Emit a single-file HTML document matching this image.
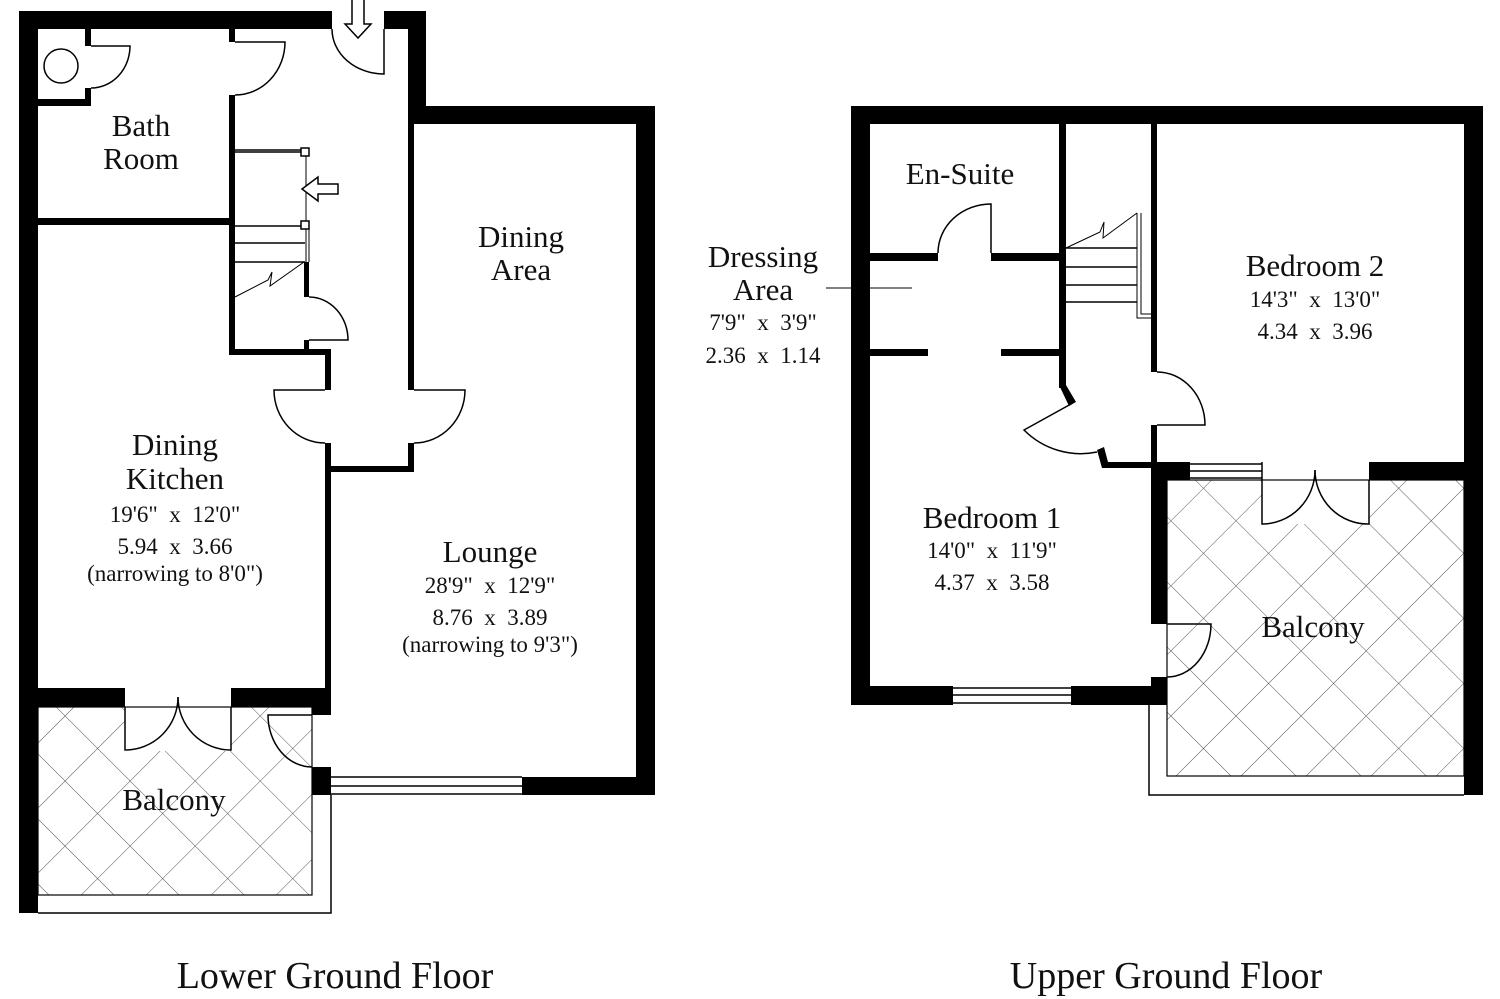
<!DOCTYPE html>
<html><head><meta charset="utf-8"><style>
html,body{margin:0;padding:0;background:#fff;}
svg{display:block;}
text{font-family:"Liberation Serif",serif;fill:#111;text-anchor:middle;white-space:pre;}
.n{font-size:31px;}
.d{font-size:23px;}
.t{font-size:38px;}
</style></head><body>
<svg width="1500" height="999" viewBox="0 0 1500 999" xmlns="http://www.w3.org/2000/svg">
<defs>
<pattern id="h" patternUnits="userSpaceOnUse" width="46" height="46" patternTransform="rotate(45)">
<line x1="0" y1="0" x2="46" y2="0" stroke="#555" stroke-width="1"/>
<line x1="0" y1="0" x2="0" y2="46" stroke="#555" stroke-width="1"/>
</pattern>
</defs>
<g fill="#000">
<!-- LEFT PLAN -->
<rect x="19" y="11" width="313" height="18"/>
<rect x="19" y="11" width="19" height="902"/>
<rect x="384" y="11" width="42" height="18"/>
<rect x="408" y="11" width="18" height="113"/>
<rect x="408" y="106" width="247" height="18"/>
<rect x="636" y="106" width="19" height="689"/>
<rect x="522" y="777" width="133" height="18"/>
<rect x="408" y="124" width="6" height="266"/>
<rect x="408" y="443" width="6" height="29"/>
<rect x="325" y="466" width="89" height="6"/>
<rect x="325" y="355" width="6" height="35"/>
<rect x="325" y="443" width="6" height="272"/>
<rect x="229" y="349" width="102" height="6"/>
<rect x="229" y="95" width="6" height="260"/>
<rect x="229" y="29" width="6" height="13"/>
<rect x="38" y="218" width="191" height="7"/>
<rect x="85" y="29" width="6" height="17"/>
<rect x="85" y="88" width="6" height="18"/>
<rect x="38" y="99" width="53" height="7"/>
<rect x="304" y="262" width="5" height="35"/>
<rect x="304" y="340" width="5" height="11"/>
<rect x="38" y="688" width="87" height="19"/>
<rect x="231" y="688" width="100" height="19"/>
<rect x="312" y="688" width="19" height="27"/>
<rect x="312" y="767" width="19" height="28"/>
<!-- RIGHT PLAN -->
<rect x="851" y="106" width="632" height="18"/>
<rect x="851" y="106" width="19" height="599"/>
<rect x="1464" y="106" width="19" height="689"/>
<rect x="851" y="686" width="102" height="19"/>
<rect x="1071" y="686" width="96" height="19"/>
<rect x="1059" y="124" width="7" height="264"/>
<polygon points="1059,385 1066,385 1076,402 1069,406"/>
<rect x="870" y="253" width="68" height="8"/>
<rect x="991" y="253" width="75" height="8"/>
<rect x="870" y="349" width="58" height="7"/>
<rect x="1001" y="349" width="65" height="7"/>
<rect x="1151" y="124" width="6" height="248"/>
<rect x="1151" y="425" width="6" height="55"/>
<polygon points="1097,450 1104,447 1108,462 1157,462 1157,468 1102,468"/>
<rect x="1151" y="462" width="39" height="18"/>
<rect x="1369" y="462" width="95" height="18"/>
<rect x="1151" y="480" width="16" height="144"/>
<rect x="1151" y="677" width="16" height="28"/>
</g>
<!-- hatches -->
<rect x="38" y="707" width="274" height="188" fill="url(#h)"/>
<rect x="125" y="707" width="106" height="44" fill="#fff"/>
<rect x="38" y="707" width="274" height="188" fill="none" stroke="#000" stroke-width="1.2"/>
<rect x="1167" y="480" width="297" height="296" fill="url(#h)"/>
<rect x="1262" y="480" width="107" height="44" fill="#fff"/>
<rect x="1167" y="480" width="297" height="296" fill="none" stroke="#000" stroke-width="1.2"/>
<g fill="none" stroke="#000" stroke-width="1.5">
<polyline points="38,913 331,913 331,795"/>
<line x1="331" y1="777" x2="522" y2="777"/><line x1="331" y1="786" x2="522" y2="786"/><line x1="331" y1="794" x2="522" y2="794"/>
<path d="M384,29 L384,74 A52,45 0 0 1 332,29"/>
<path d="M235,42 L285,42 A50,53 0 0 1 235,95"/>
<path d="M91,46 L130,46 A39,42 0 0 1 91,88"/>
<circle cx="61" cy="66" r="17"/>
<line x1="235" y1="150" x2="305" y2="150"/><line x1="235" y1="152" x2="305" y2="152"/>
<line x1="235" y1="226" x2="305" y2="226"/>
<line x1="235" y1="243" x2="305" y2="243"/>
<line x1="235" y1="262" x2="305" y2="262"/>
<line x1="306" y1="152" x2="306" y2="262" stroke-width="1"/><line x1="309" y1="226" x2="309" y2="262" stroke-width="1"/>
<rect x="301" y="148" width="8" height="8" fill="#fff"/>
<rect x="301" y="221" width="8" height="8" fill="#fff"/>
<polyline points="235,297 268,280 272,272 270,286 304,262" stroke-width="1"/>
<path d="M309,340 L348,340 A39,43 0 0 0 309,297"/>
<path d="M325,390 L274,390 A51,53 0 0 0 325,443"/>
<path d="M414,390 L465,390 A51,53 0 0 1 414,443"/>
<path d="M125,707 L125,750 A53,53 0 0 0 178,697"/>
<path d="M231,707 L231,750 A53,53 0 0 1 178,697"/>
<path d="M312,715 L268,715 A44,52 0 0 0 312,767"/>
<line x1="953" y1="688" x2="1071" y2="688"/><line x1="953" y1="695" x2="1071" y2="695"/><line x1="953" y1="703" x2="1071" y2="703"/>
<path d="M991,253 L991,204 A53,49 0 0 0 938,253"/>
<line x1="826" y1="288" x2="912" y2="288" stroke-width="1"/>
<line x1="1066" y1="248" x2="1137" y2="248"/><line x1="1066" y1="267" x2="1137" y2="267"/><line x1="1066" y1="285" x2="1137" y2="285"/><line x1="1066" y1="302" x2="1137" y2="302"/>
<polyline points="1066,248 1100,232 1104,222 1103,238 1137,213" stroke-width="1"/>
<polyline points="1137,213 1137,318 1151,318" stroke-width="1"/><polyline points="1141,213 1141,314 1151,314" stroke-width="1"/>
<path d="M1157,425 L1205,425 A48,53 0 0 0 1157,372"/>
<path d="M1071,404 L1024,430 A80,80 0 0 0 1097,452"/>
<line x1="1190" y1="464" x2="1262" y2="464"/><line x1="1190" y1="471" x2="1262" y2="471"/><line x1="1190" y1="478" x2="1262" y2="478"/>
<line x1="1262" y1="462" x2="1262" y2="480"/>
<path d="M1262,480 L1262,524 A53,54 0 0 0 1315,470"/>
<path d="M1369,480 L1369,524 A53,54 0 0 1 1315,470"/>
<path d="M1167,624 L1211,624 A44,53 0 0 1 1167,677"/>
<polyline points="1149,705 1149,795 1464,795"/>
</g>
<path d="M352,0 L352,24 L345,24 L358,38 L371,24 L364,24 L364,0" fill="#fff" stroke="#000" stroke-width="1.5"/>
<path d="M338,184 L318,184 L318,177 L302,189 L318,201 L318,194 L338,194 Z" fill="#fff" stroke="#000" stroke-width="1.5"/>
<text class="n" x="141" y="136">Bath</text>
<text class="n" x="141" y="169">Room</text>
<text class="n" x="521" y="247">Dining</text>
<text class="n" x="521" y="280">Area</text>
<text class="n" x="175" y="455">Dining</text>
<text class="n" x="175" y="489">Kitchen</text>
<text class="d" x="175" y="522">19'6"  x  12'0"</text>
<text class="d" x="175" y="554">5.94  x  3.66</text>
<text class="d" x="175" y="581">(narrowing to 8'0")</text>
<text class="n" x="490" y="562">Lounge</text>
<text class="d" x="490" y="593">28'9"  x  12'9"</text>
<text class="d" x="490" y="625">8.76  x  3.89</text>
<text class="d" x="490" y="652">(narrowing to 9'3")</text>
<text class="n" x="174" y="810">Balcony</text>
<text class="t" x="335" y="988">Lower Ground Floor</text>
<text class="n" x="960" y="184">En-Suite</text>
<text class="n" x="763" y="267">Dressing</text>
<text class="n" x="763" y="300">Area</text>
<text class="d" x="763" y="330">7'9"  x  3'9"</text>
<text class="d" x="763" y="363">2.36  x  1.14</text>
<text class="n" x="1315" y="276">Bedroom 2</text>
<text class="d" x="1315" y="307">14'3"  x  13'0"</text>
<text class="d" x="1315" y="339">4.34  x  3.96</text>
<text class="n" x="992" y="528">Bedroom 1</text>
<text class="d" x="992" y="558">14'0"  x  11'9"</text>
<text class="d" x="992" y="590">4.37  x  3.58</text>
<text class="n" x="1313" y="637">Balcony</text>
<text class="t" x="1166" y="988">Upper Ground Floor</text>
</svg>
</body></html>
